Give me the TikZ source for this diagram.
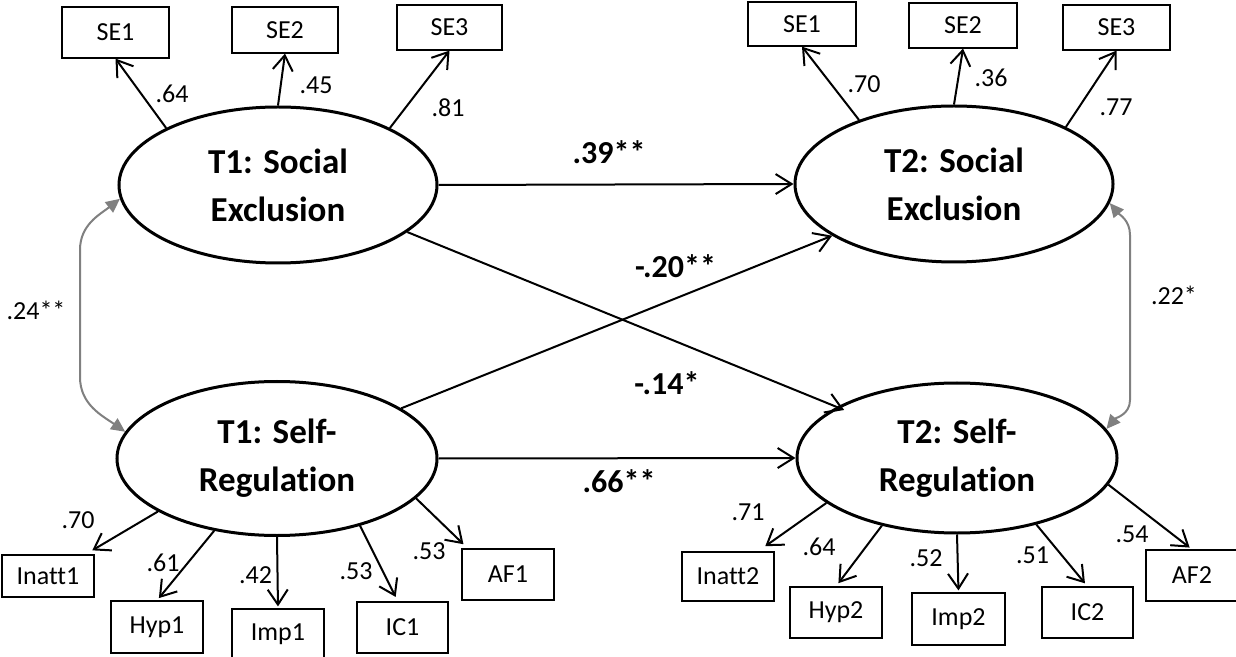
\documentclass[tikz,border=0pt]{standalone}
\usepackage{fontspec}
\setmainfont{Carlito}[RawFeature=-liga]
\usetikzlibrary{arrows.meta,shapes.geometric}
\definecolor{covgray}{RGB}{128,128,128}
\begin{document}
\begin{tikzpicture}[x=0.5pt,y=-0.5pt,
  latent/.style={ellipse,draw,line width=1.5pt,inner sep=0pt,align=center,
    font=\fontsize{17.5}{24}\selectfont\bfseries},
  ind/.style={rectangle,draw,line width=0.6pt,inner sep=0pt,
    font=\fontsize{13}{15}\selectfont},
  load/.style={draw,line width=1pt,-{Straight Barb[length=7.5pt,width=10pt]}},
  regarrow/.style={draw,line width=1pt,-{Straight Barb[length=8pt,width=10pt]}},
  cov/.style={draw=covgray,line width=1pt,
    {Triangle[length=7pt,width=6.5pt]}-{Triangle[length=7pt,width=6.5pt]}},
  coef/.style={inner sep=0pt,font=\fontsize{16}{19}\selectfont\bfseries},
  lab/.style={inner sep=0pt,font=\fontsize{13}{15}\selectfont},
]
\fill[white] (0,0) rectangle (1236,657);
\useasboundingbox (0,0) rectangle (1236,657);

% latent variables
\node[latent,minimum width=159pt,minimum height=78pt] (T1SE) at (278,185) {T1: Social\\Exclusion};
\node[latent,minimum width=160pt,minimum height=77pt] (T1SR) at (277,458.5) {T1: Self-\\Regulation};
\node[latent,minimum width=159pt,minimum height=78pt] (T2SE) at (954,184) {T2: Social\\Exclusion};
\node[latent,minimum width=160pt,minimum height=75pt] (T2SR) at (957,458) {T2: Self-\\Regulation};

% indicators T1 SE
\node[ind,minimum width=53.5pt,minimum height=25.5pt] (sea1) at (115.5,32.5) {SE1};
\node[ind,minimum width=53pt,minimum height=23pt] (sea2) at (285,30) {SE2};
\node[ind,minimum width=52.5pt,minimum height=22.5pt] (sea3) at (449.5,27.5) {SE3};
% indicators T2 SE
\node[ind,minimum width=54pt,minimum height=22pt] (seb1) at (802,24) {SE1};
\node[ind,minimum width=54pt,minimum height=22.5pt] (seb2) at (963,25.5) {SE2};
\node[ind,minimum width=53.5pt,minimum height=22.5pt] (seb3) at (1116.5,27.5) {SE3};
% indicators T1 SR
\node[ind,minimum width=46pt,minimum height=21pt] (ina1) at (48,576) {Inatt1};
\node[ind,minimum width=46pt,minimum height=26pt] (hyp1) at (157,627) {Hyp1};
\node[ind,minimum width=46pt,minimum height=25.5pt] (imp1) at (278,634.5) {Imp1};
\node[ind,minimum width=45.5pt,minimum height=25.5pt] (ic1) at (402.5,627.5) {IC1};
\node[ind,minimum width=46pt,minimum height=25.5pt] (af1) at (508,574.5) {AF1};
% indicators T2 SR
\node[ind,minimum width=46pt,minimum height=24.5pt] (ina2) at (728,576.5) {Inatt2};
\node[ind,minimum width=46pt,minimum height=25.5pt] (hyp2) at (836,612.5) {Hyp2};
\node[ind,minimum width=46.5pt,minimum height=26pt] (imp2) at (958.5,619) {Imp2};
\node[ind,minimum width=45.5pt,minimum height=25.5pt] (ic2) at (1087.5,612.5) {IC2};
\node[ind,minimum width=46pt,minimum height=25.5pt] (af2) at (1192,575.5) {AF2};

% loadings T1 SE
\draw[load] (T1SE.153) -- (sea1.south);
\draw[load] (T1SE.90) -- (sea2.south);
\draw[load] (T1SE.27) -- (sea3.south);
% loadings T2 SE
\draw[load] (T2SE.146) -- (seb1.south);
\draw[load] (T2SE.90) -- (seb2.south);
\draw[load] (T2SE.27) -- (seb3.south);
% loadings T1 SR
\draw[load,shorten >=4pt] (T1SR.204) -- (ina1.30);
\draw[load,shorten >=1.5pt] (T1SR.229) -- (hyp1.north);
\draw[load,shorten >=1pt] (T1SR.270) -- (imp1.north);
\draw[load,shorten >=2.5pt] (T1SR.321) -- (ic1.100);
\draw[load,shorten >=3pt] (T1SR.344) -- (af1.147);
% loadings T2 SR
\draw[load,shorten >=4.5pt] (T2SR.199) -- (ina2.40);
\draw[load,shorten >=2pt] (T2SR.222) -- (hyp2.north);
\draw[load,shorten >=1pt] (T2SR.270) -- (imp2.north);
\draw[load,shorten >=2pt] (T2SR.320) -- (ic2.north);
\draw[load,shorten >=1.5pt] (T2SR.350) -- (af2.north);

% structural paths
\draw[regarrow] (T1SE.east) -- (T2SE.west);
\draw[regarrow] (T1SR.east) -- (T2SR.west);
\draw[regarrow,shorten >=-4pt] (T1SE.340) -- (T2SR.157);
\draw[regarrow] (T1SR.22) -- (T2SE.203);

% covariances
\coordinate (cl1) at (80,250);
\coordinate (cl2) at (80,377);
\coordinate (cr1) at (1130,235);
\coordinate (cr2) at (1130,400);
\draw[cov] (T1SE.185) to[out=218,in=90] (cl1) -- (cl2) to[out=-90,in=145] (T1SR.170);
\draw[cov] (T2SE.353) to[out=-50,in=90] (cr1) -- (cr2) to[out=-90,in=50] (T2SR.11);

% loading labels
\node[lab] (l1) at (172,94) {.64};
\node[lab] (l2) at (316,85) {.45};
\node[lab] (l3) at (448,108) {.81};
\node[lab] (l4) at (864,84) {.70};
\node[lab] (l5) at (991,77.5) {.36};
\node[lab] (l6) at (1116,107.5) {.77};
\node[lab] (l7) at (78,520) {.70};
\node[lab] (l8) at (163,562.5) {.61};
\node[lab] (l9) at (255.5,575) {.42};
\node[lab] (l10) at (356,571) {.53};
\node[lab] (l11) at (429,551) {.53};
\node[lab] (l12) at (748,512) {.71};
\node[lab] (l13) at (819,547) {.64};
\node[lab] (l14) at (926,558) {.52};
\node[lab] (l15) at (1032.5,555) {.51};
\node[lab] (l16) at (1132,534) {.54};
\node[lab] (l17) at (36,310) {.24**};
\node[lab] (l18) at (1174,295) {.22*};

% path coefficients
\node[coef] (c1) at (609,152) {.39**};
\node[coef] (c2) at (675.5,266) {-.20**};
\node[coef] (c3) at (667,383) {-.14*};
\node[coef] (c4) at (619,481) {.66**};
\end{tikzpicture}
\end{document}
